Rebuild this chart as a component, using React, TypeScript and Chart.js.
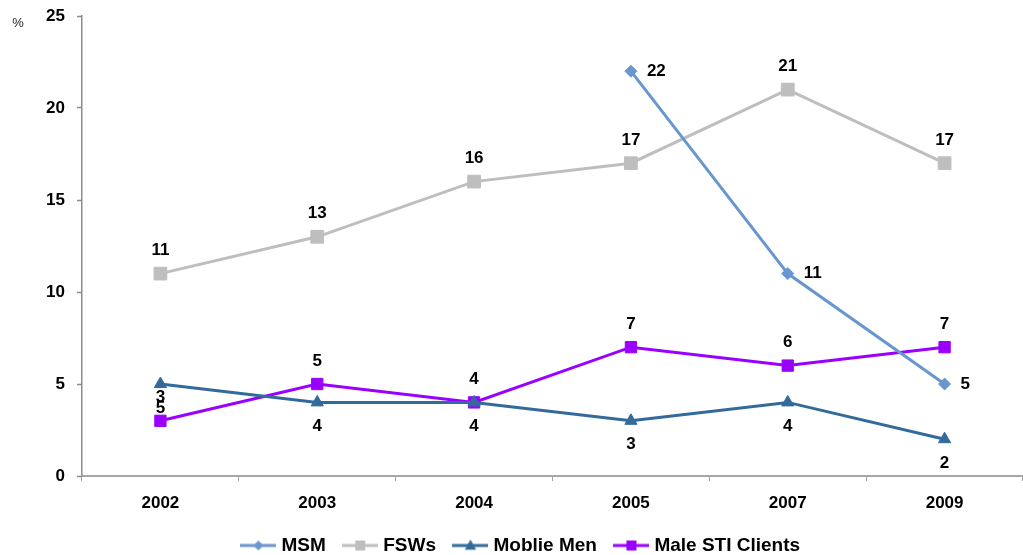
import React, { useEffect, useRef } from "react";
import { Chart, registerables } from "chart.js";

Chart.register(...registerables);

// Survey years and prevalence (%) by population group
const years = ["2002", "2003", "2004", "2005", "2007", "2009"];
const msm = [null, null, null, 22, 11, 5];
const fsws = [11, 13, 16, 17, 21, 17];
const mobileMen = [5, 4, 4, 3, 4, 2];
const maleStiClients = [3, 5, 4, 7, 6, 7];
const yTickValues = [0, 5, 10, 15, 20, 25];

const FONT = "'Liberation Sans', Arial, sans-serif";

const COLORS = {
  msm: "#6896CF",
  fsws: "#BEBEBE",
  mobile: "#336A9C",
  sti: "#9900FF",
};

type Marker = "diamond" | "square" | "triangle";

// Small legend swatch: a line with the series marker in the middle
function makeSwatch(color: string, marker: Marker, size: number): HTMLCanvasElement {
  const c = document.createElement("canvas");
  c.width = 36;
  c.height = 16;
  const ctx = c.getContext("2d")!;
  const cy = c.height / 2;
  const cx = c.width / 2;
  ctx.strokeStyle = color;
  ctx.lineWidth = 3;
  ctx.beginPath();
  ctx.moveTo(0, cy);
  ctx.lineTo(c.width, cy);
  ctx.stroke();
  ctx.fillStyle = color;
  ctx.beginPath();
  if (marker === "diamond") {
    ctx.moveTo(cx, cy - size);
    ctx.lineTo(cx + size, cy);
    ctx.lineTo(cx, cy + size);
    ctx.lineTo(cx - size, cy);
  } else if (marker === "square") {
    ctx.rect(cx - size, cy - size, size * 2, size * 2);
  } else {
    ctx.moveTo(cx, cy - size);
    ctx.lineTo(cx + size * 0.95, cy + size * 0.7);
    ctx.lineTo(cx - size * 0.95, cy + size * 0.7);
  }
  ctx.closePath();
  ctx.fill();
  return c;
}

type LabelPos = "right" | "above" | "below";

// Draws each point's value next to it, plus the "%" unit caption
const valueLabels = {
  id: "valueLabels",
  afterInit(chart: any) {
    const lg = chart.legend;
    if (lg) {
      const baseFit = lg.fit.bind(lg);
      lg.fit = function () {
        baseFit();
        this.height = Math.max(0, this.height - 10);
      };
    }
  },
  afterLayout(chart: any) {
    // nudge the legend row slightly right of centre
    const lg = chart.legend;
    if (lg) {
      lg.left += 11;
      lg.right += 11;
    }
  },
  afterDatasetsDraw(chart: any) {
    const ctx = chart.ctx;
    ctx.save();
    ctx.font = `bold 17px ${FONT}`;
    ctx.fillStyle = "#000";
    ctx.textBaseline = "middle";
    chart.data.datasets.forEach((ds: any, i: number) => {
      const meta = chart.getDatasetMeta(i);
      const pos: LabelPos = ds.labelPos;
      ds.data.forEach((v: number | null, j: number) => {
        if (v === null || v === undefined) return;
        const pt = meta.data[j];
        if (!pt) return;
        const text = String(v);
        if (pos === "right") {
          ctx.textAlign = "left";
          ctx.fillText(text, pt.x + 16, pt.y);
        } else if (pos === "above") {
          ctx.textAlign = "center";
          ctx.fillText(text, pt.x, pt.y - 23);
        } else {
          ctx.textAlign = "center";
          ctx.fillText(text, pt.x, pt.y + 24);
        }
      });
    });
    ctx.font = `13px ${FONT}`;
    ctx.textAlign = "center";
    ctx.fillStyle = "#222";
    ctx.fillText("%", 18, 23);
    ctx.restore();
  },
};

export default function App() {
  const canvasRef = useRef<HTMLCanvasElement | null>(null);

  useEffect(() => {
    document.body.style.margin = "0";
    const canvas = canvasRef.current;
    if (!canvas) return;

    const swatches = [
      makeSwatch(COLORS.msm, "diamond", 5),
      makeSwatch(COLORS.fsws, "square", 5),
      makeSwatch(COLORS.mobile, "triangle", 6),
      makeSwatch(COLORS.sti, "square", 5),
    ];

    const chart = new Chart(canvas, {
      type: "line",
      data: {
        labels: years,
        datasets: [
          {
            label: "MSM",
            data: msm,
            borderColor: COLORS.msm,
            backgroundColor: COLORS.msm,
            pointStyle: "rectRot",
            pointRadius: 6,
            labelPos: "right",
          },
          {
            label: "FSWs",
            data: fsws,
            borderColor: COLORS.fsws,
            backgroundColor: COLORS.fsws,
            pointStyle: "rect",
            pointRadius: 9,
            labelPos: "above",
          },
          {
            label: "Moblie Men",
            data: mobileMen,
            borderColor: COLORS.mobile,
            backgroundColor: COLORS.mobile,
            pointStyle: "triangle",
            pointRadius: 7,
            labelPos: "below",
          },
          {
            label: "Male STI Clients",
            data: maleStiClients,
            borderColor: COLORS.sti,
            backgroundColor: COLORS.sti,
            pointStyle: "rect",
            pointRadius: 8,
            labelPos: "above",
          },
        ] as any,
      },
      options: {
        animation: false,
        responsive: false,
        devicePixelRatio: 1,
        datasets: {
          line: {
            borderWidth: 3,
            pointBorderWidth: 1,
            tension: 0,
          },
        },
        layout: { autoPadding: false, padding: { top: 16, left: 0, right: 0, bottom: 0 } },
        plugins: {
          tooltip: { enabled: false },
          legend: {
            position: "bottom",
            labels: {
              usePointStyle: true,
              pointStyleWidth: 27,
              padding: 21,
              color: "#000",
              font: { family: FONT, size: 19, weight: "bold" },
              generateLabels: (ch: any) =>
                ch.data.datasets.map((ds: any, i: number) => ({
                  text: ds.label,
                  pointStyle: swatches[i],
                  fillStyle: ds.borderColor,
                  strokeStyle: ds.borderColor,
                  lineWidth: 0,
                  hidden: false,
                  datasetIndex: i,
                })),
            },
          },
        },
        scales: {
          x: {
            type: "category",
            offset: true,
            grid: {
              offset: true,
              drawOnChartArea: false,
              drawTicks: true,
              tickLength: 5,
              color: "#A0A0A0",
              tickWidth: 1,
            },
            border: { color: "#A6A6A6", width: 2 },
            ticks: {
              color: "#000",
              padding: 12,
              font: { family: FONT, size: 17, weight: "bold" },
            },
            afterFit: (s: any) => {
              s.height = 39;
              s.paddingLeft = 0;
              s.paddingRight = 0;
            },
          },
          y: {
            min: 0,
            max: 25,
            afterBuildTicks: (s: any) => {
              s.ticks = yTickValues.map((v) => ({ value: v }));
            },
            grid: {
              drawOnChartArea: false,
              drawTicks: true,
              tickLength: 5,
              color: "#8C8C8C",
              tickWidth: 1.5,
            },
            border: { color: "#8C8C8C", width: 1.5 },
            ticks: {
              color: "#000",
              padding: 12,
              font: { family: FONT, size: 17, weight: "bold" },
            },
            afterFit: (s: any) => {
              s.width = 82;
              s.paddingTop = 0;
              s.paddingBottom = 0;
            },
          },
        },
      } as any,
      plugins: [valueLabels],
    });

    return () => chart.destroy();
  }, []);

  return (
    <div style={{ width: 1023, height: 555 }}>
      <canvas ref={canvasRef} width={1023} height={555} style={{ display: "block" }} />
    </div>
  );
}
